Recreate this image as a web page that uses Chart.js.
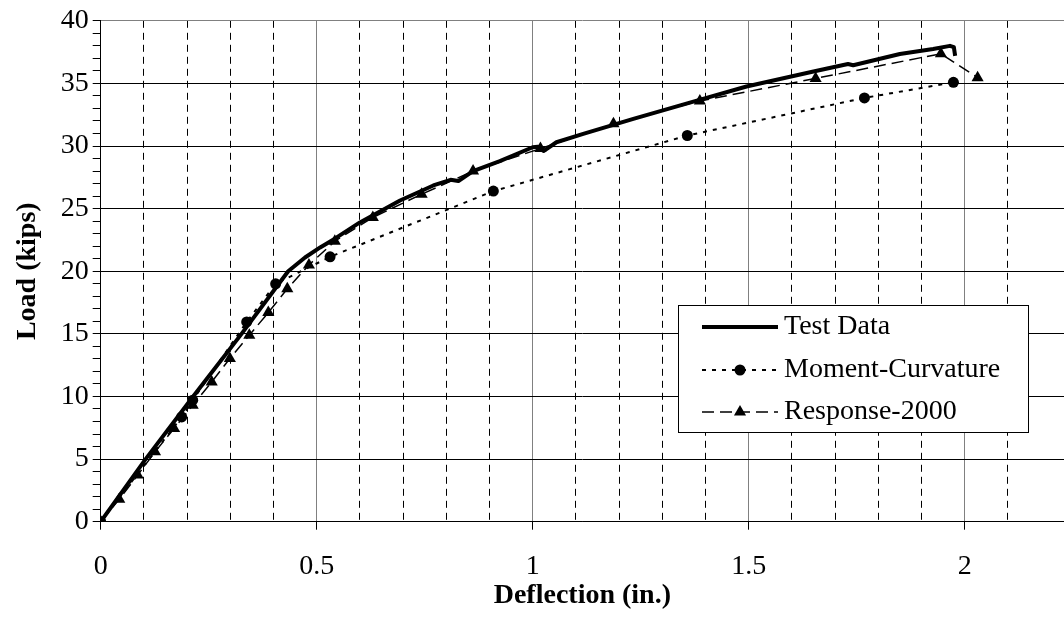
<!DOCTYPE html>
<html>
<head>
    <title>Load vs Deflection</title>
    <script src="https://cdn.jsdelivr.net/npm/chart.js"></script>
    <style>
        body {
            margin: 0;
            background: white;
        }
        #wrap {
            width: 1064px;
            height: 617px;
        }
    </style>
</head>
<body>
    <div id="wrap">
        <canvas id="loadChart" width="1064" height="617"></canvas>
    </div>

    <script>
        // Test Data (measured)
        let testX = [0, 0.104, 0.214, 0.326, 0.434, 0.473, 0.508, 0.542, 0.6, 0.693, 0.77, 0.81, 0.828, 0.862, 0.924, 1.0, 1.012, 1.025, 1.055, 1.117, 1.233, 1.372, 1.495, 1.65, 1.73, 1.742, 1.85, 1.927, 1.966, 1.975, 1.978];
        let testY = [0, 5, 10, 15, 20, 21.1, 21.9, 22.6, 23.9, 25.65, 26.85, 27.3, 27.2, 28.0, 28.8, 29.9, 29.95, 29.6, 30.3, 30.97, 32.17, 33.55, 34.75, 35.95, 36.55, 36.45, 37.35, 37.75, 38.0, 37.9, 37.2];

        // Moment-Curvature
        let mcX = [0, 0.1875, 0.213, 0.338, 0.405, 0.531, 0.909, 1.358, 1.768, 1.974];
        let mcY = [0, 8.37, 9.7, 15.95, 19.0, 21.15, 26.4, 30.84, 33.84, 35.09];

        // Response-2000
        let r2kX = [0, 0.043, 0.0856, 0.1257, 0.170, 0.213, 0.257, 0.299, 0.344, 0.388, 0.432, 0.482, 0.542, 0.63, 0.743, 0.862, 1.018, 1.187, 1.387, 1.655, 1.945, 2.03];
        let r2kY = [0, 1.79, 3.72, 5.58, 7.45, 9.3, 11.16, 13.03, 14.89, 16.7, 18.6, 20.5, 22.4, 24.3, 26.15, 28.0, 29.8, 31.77, 33.6, 35.4, 37.37, 35.46];

        let seriesNames = ["Test Data", "Moment-Curvature", "Response-2000"];

        const serif = '"Liberation Serif", "Times New Roman", serif';

        function toPoints(xs, ys) {
            return xs.map((x, i) => ({ x: x, y: ys[i] }));
        }

        function isMajorX(v) {
            let r = Math.round(v * 10);
            return Math.abs(v * 10 - r) < 1e-6 && r % 5 === 0;
        }

        function isTenthX(v) {
            return Math.abs(v * 10 - Math.round(v * 10)) < 1e-6;
        }

        // legend drawn inside the plot area, like the Excel original
        const boxLegend = {
            id: "boxLegend",
            afterDraw(chart) {
                const ctx = chart.ctx;
                const left = 678, top = 305, right = 1028, bottom = 432;
                const rows = [327, 370, 412];
                ctx.save();
                ctx.fillStyle = "white";
                ctx.fillRect(left, top, right - left, bottom - top);
                ctx.strokeStyle = "#000";
                ctx.lineWidth = 1;
                ctx.strokeRect(left + 0.5, top + 0.5, right - left, bottom - top);

                chart.data.datasets.forEach((ds, i) => {
                    const y = rows[i];
                    ctx.strokeStyle = ds.borderColor;
                    ctx.lineWidth = ds.borderWidth;
                    ctx.setLineDash(ds.borderDash || []);
                    ctx.beginPath();
                    ctx.moveTo(702, y);
                    ctx.lineTo(778, y);
                    ctx.stroke();
                    ctx.setLineDash([]);

                    const r = ds.pointRadius;
                    ctx.fillStyle = ds.pointBackgroundColor;
                    if (r > 0) {
                        ctx.beginPath();
                        if (ds.pointStyle === "triangle") {
                            ctx.moveTo(740, y - r);
                            ctx.lineTo(740 + 0.866 * r, y + 0.5 * r);
                            ctx.lineTo(740 - 0.866 * r, y + 0.5 * r);
                            ctx.closePath();
                        } else {
                            ctx.arc(740, y, r, 0, Math.PI * 2);
                        }
                        ctx.fill();
                    }

                    ctx.fillStyle = "#000";
                    ctx.font = "28px " + serif;
                    ctx.textBaseline = "middle";
                    ctx.textAlign = "left";
                    ctx.fillText(ds.label, 784, y);
                });
                ctx.restore();
            }
        };

        const ctx = document.getElementById("loadChart").getContext("2d");
        new Chart(ctx, {
            type: "scatter",
            data: {
                datasets: [{
                    label: seriesNames[0],
                    data: toPoints(testX, testY),
                    showLine: true,
                    borderColor: "#000",
                    borderWidth: 4,
                    borderJoinStyle: "round",
                    pointRadius: 0,
                    pointBackgroundColor: "#000",
                    tension: 0
                }, {
                    label: seriesNames[1],
                    data: toPoints(mcX, mcY),
                    showLine: true,
                    borderColor: "#000",
                    borderWidth: 2,
                    borderDash: [4, 6],
                    pointStyle: "circle",
                    pointRadius: 5.5,
                    pointBackgroundColor: "#000",
                    pointBorderWidth: 0,
                    tension: 0
                }, {
                    label: seriesNames[2],
                    data: toPoints(r2kX, r2kY),
                    showLine: true,
                    borderColor: "#000",
                    borderWidth: 1.5,
                    borderDash: [12, 6],
                    pointStyle: "triangle",
                    pointRadius: 7,
                    pointBackgroundColor: "#000",
                    pointBorderWidth: 0,
                    tension: 0
                }]
            },
            options: {
                responsive: false,
                animation: false,
                events: [],
                layout: { autoPadding: false, padding: { top: 20, right: 0, left: 0, bottom: 0 } },
                plugins: {
                    legend: { display: false },
                    tooltip: { enabled: false }
                },
                scales: {
                    x: {
                        type: "linear",
                        min: 0,
                        max: 2.23,
                        afterFit(scale) {
                            scale.height = 95.3;
                            scale.paddingRight = 0;
                            scale.paddingLeft = 0;
                        },
                        ticks: {
                            stepSize: 0.1,
                            autoSkip: false,
                            maxRotation: 0,
                            padding: 20,
                            color: "#000",
                            font: { family: serif, size: 28 },
                            callback: v => isMajorX(v) ? String(Math.round(v * 10) / 10) : ""
                        },
                        grid: {
                            color: c => !c.tick ? "transparent" : (isMajorX(c.tick.value) ? "#808080" : (isTenthX(c.tick.value) ? "#000" : "transparent")),
                            lineWidth: 1,
                            tickLength: 8,
                            tickColor: c => c.tick && isMajorX(c.tick.value) ? "#000" : "transparent"
                        },
                        border: {
                            color: "#000",
                            width: 1,
                            dash: c => c.tick && !isMajorX(c.tick.value) ? [7, 5] : []
                        },
                        title: {
                            display: true,
                            text: "Deflection (in.)",
                            color: "#000",
                            font: { family: serif, size: 28, weight: "bold" },
                            padding: { top: 0, bottom: 4 }
                        }
                    },
                    y: {
                        min: 0,
                        max: 40,
                        afterFit(scale) { scale.width = 100.7; },
                        ticks: {
                            stepSize: 1,
                            autoSkip: false,
                            padding: 4,
                            color: "#000",
                            font: { family: serif, size: 28 },
                            callback: v => v % 5 === 0 ? String(v) : ""
                        },
                        grid: {
                            color: c => !c.tick ? "transparent" : (c.tick.value % 5 !== 0 ? "transparent" : (c.tick.value === 40 ? "#808080" : "#000")),
                            lineWidth: 1,
                            tickLength: 8,
                            tickColor: "#000"
                        },
                        border: { color: "#000", width: 1 },
                        title: {
                            display: true,
                            text: "Load (kips)",
                            color: "#000",
                            font: { family: serif, size: 28, weight: "bold" },
                            padding: { top: 11, bottom: 0 }
                        }
                    }
                }
            },
            plugins: [boxLegend]
        });
    </script>
</body>
</html>
